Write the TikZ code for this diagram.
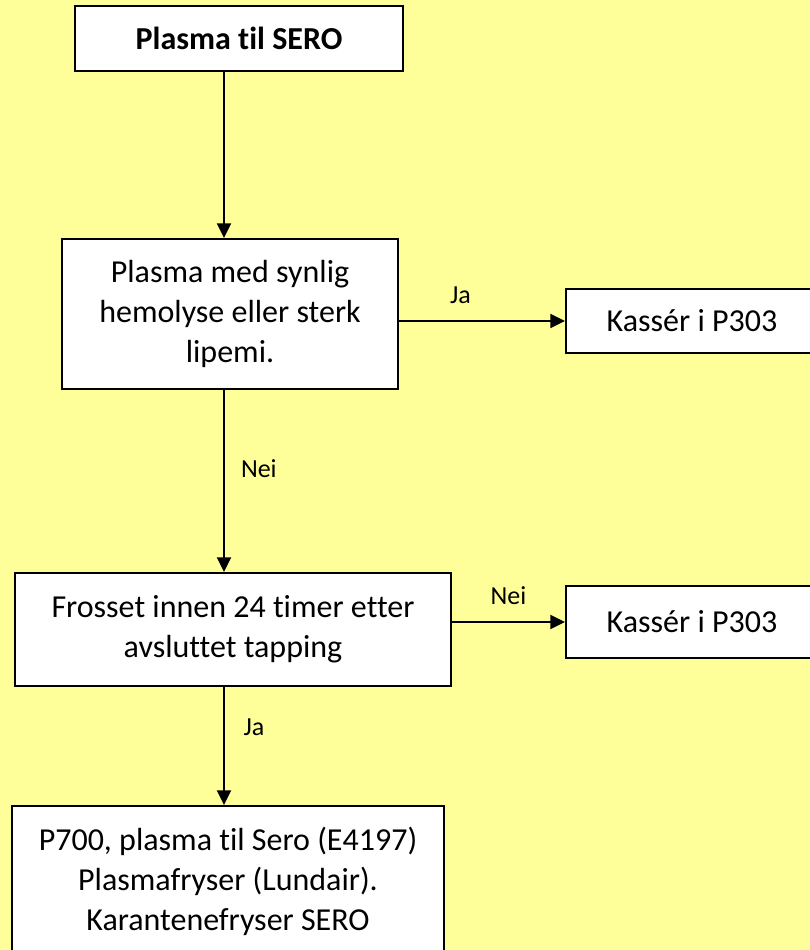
\documentclass[tikz,border=0pt]{standalone}
\usepackage{fontspec}
\setmainfont{Carlito}[Ligatures={NoCommon,NoContextual}]
\usetikzlibrary{arrows.meta}
\definecolor{bgyellow}{RGB}{255,255,153}
\tikzset{
  box/.style={draw=black,line width=1.5pt,fill=white,align=center,inner sep=0pt,font=\fontsize{24}{30}\selectfont},
  flow/.style={line width=1.5pt,-{Triangle[length=11pt,width=10.5pt]}},
  lbl/.style={font=\fontsize{19.5}{23}\selectfont,inner sep=2pt}
}
\begin{document}
\begin{tikzpicture}[x=0.75pt,y=-0.75pt]
\fill[bgyellow] (0,0) rectangle (810,950);
\useasboundingbox (0,0) rectangle (810,950);

% boxes
\node[box,minimum width=246pt,minimum height=48.75pt,font=\fontsize{24}{30}\selectfont\bfseries] (sero) at (239,38.5) {Plasma til SERO};
\node[box,minimum width=252pt,minimum height=112.5pt] (hemo) at (230,314) {Plasma med synlig\\hemolyse eller sterk\\lipemi.};
\node[box,minimum width=189pt,minimum height=48pt] (kass1) at (692,321) {Kassér i P303};
\node[box,minimum width=327pt,minimum height=84.75pt] (frost) at (233,629.5) {Frosset innen 24 timer etter\\avsluttet tapping};
\node[box,minimum width=189pt,minimum height=54pt] (kass2) at (692,622) {Kassér i P303};
\node[box,minimum width=324pt,minimum height=112.5pt] (p700) at (228,881) {P700, plasma til Sero (E4197)\\Plasmafryser (Lundair).\\Karantenefryser SERO};

% connectors
\coordinate (col) at (224,0);
\draw[flow] (sero.south -| col) -- (hemo.north -| col);
\draw[flow] (hemo.east |- kass1.west) -- node[lbl,pos=0.37,above=10pt] (ja1) {Ja} (kass1.west);
\draw[flow] (hemo.south -| col) -- node[lbl,pos=0.43,right=10pt] (nei1) {Nei} (frost.north -| col);
\draw[flow] (frost.east |- kass2.west) -- node[lbl,midway,above=10pt] (nei2) {Nei} (kass2.west);
\draw[flow] (frost.south -| col) -- node[lbl,pos=0.34,right=12pt] (ja2) {Ja} (p700.north -| col);

\end{tikzpicture}
\end{document}
